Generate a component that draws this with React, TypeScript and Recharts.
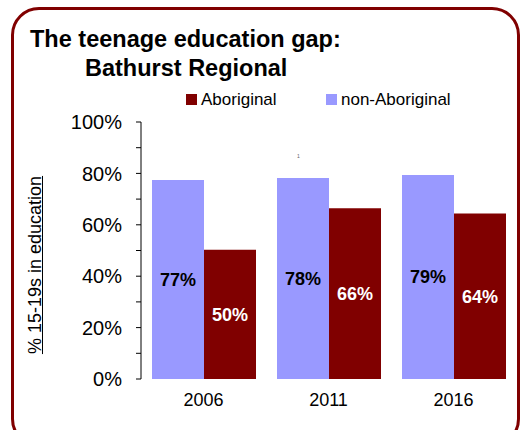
import React from 'react';
import { BarChart, Bar, XAxis, YAxis, LabelList, Legend } from 'recharts';

const years = ['2006', '2011', '2016'];
const nonAboriginal = [77.4, 78.2, 79.4];
const aboriginal = [50.3, 66.4, 64.4];
const yTicks = [0, 10, 20, 30, 40, 50, 60, 70, 80, 90, 100];
const titleLine1 = 'The teenage education gap:';
const titleLine2 = 'Bathurst Regional';
const yLabel = '% 15-19s in education';

const data = years.map((y, i) => ({ year: y, nonAboriginal: nonAboriginal[i], aboriginal: aboriginal[i] }));

const FONT = '"Liberation Sans", Arial, Helvetica, sans-serif';
const RED = '#800000';
const PURPLE = '#9999FF';

const renderLegend = () => (
  <div style={{ position: 'relative', width: 531, height: 20, fontFamily: FONT, fontSize: 17 }}>
    <div style={{ position: 'absolute', left: 186, top: 4, width: 11, height: 11, background: RED }} />
    <div style={{ position: 'absolute', left: 201, top: 0, lineHeight: '20px', color: '#000' }}>Aboriginal</div>
    <div style={{ position: 'absolute', left: 326, top: 4, width: 11, height: 11, background: PURPLE }} />
    <div style={{ position: 'absolute', left: 341, top: 0, lineHeight: '20px', color: '#000' }}>non-Aboriginal</div>
  </div>
);

export default function App() {
  return (
    <div style={{ position: 'absolute', left: 0, top: 0, width: 531, height: 430, background: '#fff', overflow: 'hidden', fontFamily: FONT }}>
      <div style={{ position: 'absolute', left: 11, top: 7, width: 509, height: 440, border: `3px solid ${RED}`, borderRadius: 28, boxSizing: 'border-box' }} />
      <div style={{ position: 'absolute', left: 30, top: 27, fontSize: 23.5, lineHeight: '24px', fontWeight: 'bold', color: '#000', whiteSpace: 'nowrap' }}>{titleLine1}</div>
      <div style={{ position: 'absolute', left: 85, top: 56, fontSize: 23.5, lineHeight: '24px', fontWeight: 'bold', color: '#000', whiteSpace: 'nowrap' }}>{titleLine2}</div>
      <div style={{ position: 'absolute', left: 35 - 110, top: 265 - 11, width: 220, height: 22, lineHeight: '22px', textAlign: 'center', fontSize: 18, color: '#000', transform: 'rotate(-90deg)', whiteSpace: 'nowrap' }}>
        <span style={{ textDecoration: 'underline' }}>{yLabel}</span>
      </div>
      <div style={{ position: 'absolute', left: 297, top: 153, fontSize: 5, color: '#666' }}>1</div>
      <div style={{ position: 'absolute', left: 0, top: 0 }}>
        <BarChart width={531} height={430} data={data} margin={{ top: 102, right: 15, bottom: 21, left: 81 }} barCategoryGap={11} barGap={0}>
          <XAxis dataKey="year" axisLine={false} tickLine={false} tickSize={6} tickMargin={8} height={30}
            tick={{ fontSize: 18, fill: '#000', fontFamily: FONT }} />
          <YAxis domain={[0, 100]} ticks={yTicks} interval={0} width={60} tickSize={5} tickMargin={14}
            axisLine={{ stroke: '#000' }} tickLine={{ stroke: '#000' }}
            tickFormatter={(v: number) => (v % 20 === 0 ? `${v}%` : '')}
            tick={{ fontSize: 20, fill: '#000', fontFamily: FONT }} />
          <Legend verticalAlign="top" content={renderLegend} wrapperStyle={{ position: 'absolute', left: 0, top: 90, width: 531, height: 20 }} />
          <Bar dataKey="nonAboriginal" name="non-Aboriginal" fill={PURPLE} isAnimationActive={false}>
            <LabelList dataKey="nonAboriginal" position="center" fill="#000" fontSize={18} fontWeight="bold" fontFamily={FONT}
              formatter={(v: number) => `${Math.round(v)}%`} />
          </Bar>
          <Bar dataKey="aboriginal" name="Aboriginal" fill={RED} isAnimationActive={false}>
            <LabelList dataKey="aboriginal" position="center" fill="#fff" fontSize={18} fontWeight="bold" fontFamily={FONT}
              formatter={(v: number) => `${Math.round(v)}%`} />
          </Bar>
        </BarChart>
      </div>
    </div>
  );
}
